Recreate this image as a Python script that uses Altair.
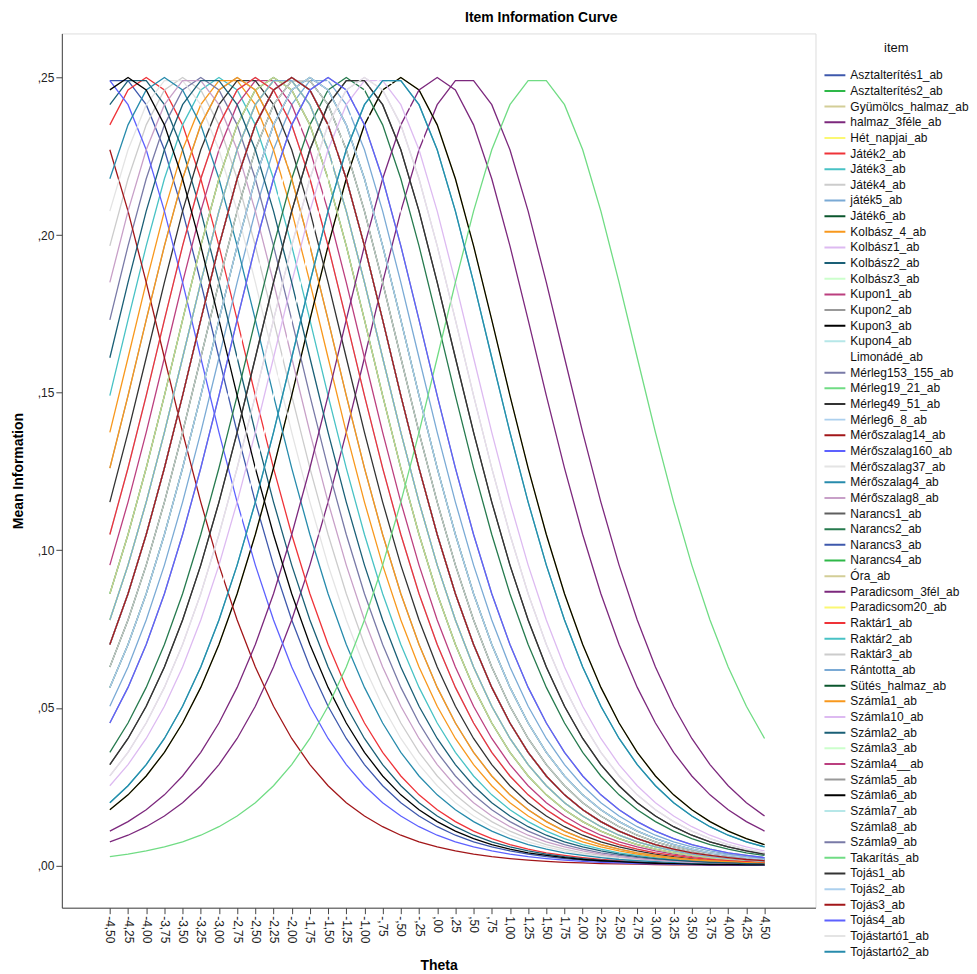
import json
import altair as alt
import pandas as pd

# ---------------- data ----------------
ITEMS = [
    "Asztalterítés1_ab", "Asztalterítés2_ab", "Gyümölcs_halmaz_ab", "halmaz_3féle_ab",
    "Hét_napjai_ab", "Játék2_ab", "Játék3_ab", "Játék4_ab", "játék5_ab", "Játék6_ab",
    "Kolbász_4_ab", "Kolbász1_ab", "Kolbász2_ab", "Kolbász3_ab", "Kupon1_ab", "Kupon2_ab",
    "Kupon3_ab", "Kupon4_ab", "Limonádé_ab", "Mérleg153_155_ab", "Mérleg19_21_ab",
    "Mérleg49_51_ab", "Mérleg6_8_ab", "Mérőszalag14_ab", "Mérőszalag160_ab",
    "Mérőszalag37_ab", "Mérőszalag4_ab", "Mérőszalag8_ab", "Narancs1_ab", "Narancs2_ab",
    "Narancs3_ab", "Narancs4_ab", "Óra_ab", "Paradicsom_3fél_ab", "Paradicsom20_ab",
    "Raktár1_ab", "Raktár2_ab", "Raktár3_ab", "Rántotta_ab", "Sütés_halmaz_ab",
    "Számla1_ab", "Számla10_ab", "Számla2_ab", "Számla3_ab", "Számla4__ab", "Számla5_ab",
    "Számla6_ab", "Számla7_ab", "Számla8_ab", "Számla9_ab", "Takarítás_ab", "Tojás1_ab",
    "Tojás2_ab", "Tojás3_ab", "Tojás4_ab", "Tojástartó1_ab", "Tojástartó2_ab",
]

# theta at which each item's curve peaks
PEAK_THETA = [
    -4.375, -1.75, -2.125, 0.375,
    -0.5, -4.0, -3.0, -3.5, -1.625, -1.875,
    -2.875, -1.0, -4.125, -2.25, -2.375, -2.75,
    -0.5, -2.25, -1.375, -3.25, -2.125,
    -2.625, -2.5, -5.125, -4.625,
    -3.625, -3.75, -3.375, -1.125, -1.25,
    -2.0, -2.25, -2.25, 0.0, -2.125,
    -2.5, -0.625, -1.875, -2.125, -2.0,
    -2.75, -0.875, -3.125, -2.0, -2.0, -1.5,
    -4.25, -2.0, -0.75, -1.75, 1.375, -1.125,
    -1.75, -2.0, -1.5, -1.0, -0.625,
]

# mean information, by distance from its peak (steps of 0.125)
INFO_BY_DISTANCE = [
    0.2500, 0.2490, 0.2461, 0.2414, 0.2350, 0.2271, 0.2179, 0.2076,
    0.1966, 0.1850, 0.1731, 0.1611, 0.1491, 0.1374, 0.1261, 0.1153,
    0.1050, 0.0953, 0.0862, 0.0779, 0.0701, 0.0630, 0.0565, 0.0505,
    0.0452, 0.0403, 0.0359, 0.0320, 0.0284, 0.0253, 0.0224, 0.0199,
    0.0177, 0.0157, 0.0139, 0.0123, 0.0109, 0.0096, 0.0085, 0.0075,
    0.0066, 0.0059, 0.0052, 0.0046, 0.0040, 0.0036, 0.0032, 0.0028,
    0.0025, 0.0022, 0.0019, 0.0017, 0.0015, 0.0013, 0.0012, 0.0010,
    0.0009, 0.0008, 0.0007, 0.0006, 0.0006, 0.0005, 0.0004, 0.0004,
    0.0003, 0.0003, 0.0003, 0.0002, 0.0002, 0.0002, 0.0002, 0.0001,
    0.0001, 0.0001, 0.0001, 0.0001, 0.0001, 0.0001, 0.0001, 0.0000,
    0.0000,
]

THETA = [-4.5, -4.25, -4.0, -3.75, -3.5, -3.25, -3.0, -2.75, -2.5, -2.25, -2.0,
         -1.75, -1.5, -1.25, -1.0, -0.75, -0.5, -0.25, 0.0, 0.25, 0.5, 0.75,
         1.0, 1.25, 1.5, 1.75, 2.0, 2.25, 2.5, 2.75, 3.0, 3.25, 3.5, 3.75,
         4.0, 4.25, 4.5]
THETA_LABELS = ["-4,50", "-4,25", "-4,00", "-3,75", "-3,50", "-3,25", "-3,00",
                "-2,75", "-2,50", "-2,25", "-2,00", "-1,75", "-1,50", "-1,25",
                "-1,00", "-,75", "-,50", "-,25", ",00", ",25", ",50", ",75",
                "1,00", "1,25", "1,50", "1,75", "2,00", "2,25", "2,50", "2,75",
                "3,00", "3,25", "3,50", "3,75", "4,00", "4,25", "4,50"]
Y_TICKS = [0.0, 0.05, 0.10, 0.15, 0.20, 0.25]

PALETTE = [
    "#3E58AC", "#2EB848", "#D3CE97", "#7C287D", "#FBF873", "#EF3338",
    "#48C2C5", "#CCCCCC", "#7AAAD5", "#0A562C", "#F8981D", "#DDBAF1",
    "#1A5F76", "#CCFFCC", "#BB3F7F", "#999999", "#000000", "#B6E7E8",
    "#FFFFFF", "#797AA7", "#70DC84", "#333333", "#ACD0EE", "#A21619",
    "#5D61FF", "#E4E4E4", "#278BAC", "#C8A0C8", "#5F5F5F", "#267A4E",
]
COLORS = [PALETTE[i % len(PALETTE)] for i in range(len(ITEMS))]

rows = []
for name, peak in zip(ITEMS, PEAK_THETA):
    for t in THETA:
        k = min(int(round(abs(t - peak) / 0.125)), len(INFO_BY_DISTANCE) - 1)
        rows.append({"item": name, "theta": t, "info": INFO_BY_DISTANCE[k]})
df = pd.DataFrame(rows)

FONT = "Liberation Sans"
x_label_expr = json.dumps(THETA_LABELS) + "[round((datum.value + 4.5) * 4)]"

chart = alt.Chart(df).mark_line(strokeWidth=1.3).encode(
    x=alt.X("theta:Q",
            scale=alt.Scale(domain=[-5.16, 5.2], nice=False, zero=False),
            axis=alt.Axis(values=THETA, labelExpr=x_label_expr, labelAngle=90,
                          labelAlign="left", labelBaseline="middle", grid=False,
                          title="Theta", titleFontWeight="bold", titleFontSize=14,
                          titlePadding=16, tickSize=6, labelPadding=2,
                          labelFontSize=12, labelFont=FONT, titleFont=FONT,
                          domainColor="#444444", tickColor="#444444",
                          labelColor="#222222", titleColor="#000000")),
    y=alt.Y("info:Q",
            scale=alt.Scale(domain=[-0.0134, 0.264], nice=False, zero=False),
            axis=alt.Axis(values=Y_TICKS,
                          labelExpr="replace(format(datum.value, '.2f'), '0.', ',')",
                          grid=False, title="Mean Information", titleFontWeight="bold",
                          titleFontSize=14, titlePadding=12, tickSize=6, labelPadding=2,
                          labelFontSize=12, labelFont=FONT, titleFont=FONT,
                          domainColor="#444444", tickColor="#444444",
                          labelColor="#222222", titleColor="#000000")),
    color=alt.Color("item:N",
                    scale=alt.Scale(domain=ITEMS, range=COLORS),
                    sort=ITEMS,
                    legend=alt.Legend(title="item", orient="none", legendX=764,
                                      legendY=9,
                                      symbolType="stroke", symbolStrokeWidth=2,
                                      symbolSize=440, labelFontSize=12,
                                      labelFont=FONT, titleFont=FONT,
                                      titleFontSize=13, titleFontWeight="normal",
                                      titleAnchor="middle", titlePadding=14,
                                      symbolLimit=100, rowPadding=3.7,
                                      clipHeight=12, labelOffset=4,
                                      labelColor="#111111", titleColor="#111111")),
).properties(
    width=756,
    height=877,
    title=alt.TitleParams("Item Information Curve", font=FONT, fontSize=14,
                          fontWeight="bold", anchor="middle", dx=103, offset=8,
                          color="#000000"),
    padding={"left": 3, "top": 2, "right": 0, "bottom": 0},
).configure_view(
    fill="#F0F0F0", stroke="#555555", strokeWidth=1
).configure(background="#FFFFFF")

chart.save("out.html", embed_options={"renderer": "svg", "actions": False})
